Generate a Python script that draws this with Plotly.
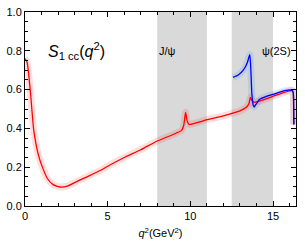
import plotly.graph_objects as go

# data
red_q2 = [0.0, 0.13, 0.33, 0.53, 0.83, 1.1, 1.34, 1.7, 2.14, 2.6, 2.94, 3.6, 4.55, 5.0, 6.0, 7.0, 8.0, 9.0, 9.47, 9.6, 9.71, 9.8, 9.93, 10.5, 11.0, 12.0, 13.0, 13.4, 13.55, 13.63, 13.72, 13.85, 13.95, 14.5, 15.0, 15.5, 16.0, 16.15, 16.22, 16.25, 16.26]
red_s = [0.76, 0.74, 0.585, 0.39, 0.257, 0.19, 0.143, 0.11, 0.098, 0.104, 0.118, 0.145, 0.183, 0.205, 0.25, 0.29, 0.335, 0.37, 0.39, 0.415, 0.483, 0.44, 0.42, 0.432, 0.445, 0.465, 0.49, 0.51, 0.53, 0.56, 0.545, 0.535, 0.535, 0.55, 0.565, 0.58, 0.593, 0.595, 0.585, 0.5, 0.42]

blue_q2 = [12.58, 12.9, 13.2, 13.45, 13.55, 13.6, 13.66, 13.72, 13.8, 13.86, 13.95, 14.2, 14.6, 15.0, 15.5, 15.9, 16.05, 16.17, 16.23, 16.25, 16.26]
blue_s = [0.663, 0.675, 0.70, 0.74, 0.77, 0.78, 0.70, 0.58, 0.52, 0.51, 0.522, 0.55, 0.565, 0.575, 0.59, 0.597, 0.598, 0.595, 0.58, 0.5, 0.42]

bands = [(8.0, 11.0), (12.5, 15.0)]
band_labels = ["J/\u03c8", "\u03c8(2S)"]
band_label_x = [8.0, 14.2]

x_ticks = [0, 5, 10, 15]
y_ticks = [0.0, 0.2, 0.4, 0.6, 0.8, 1.0]
y_tick_text = ["0.0", "0.2", "0.4", "0.6", "0.8", "1.0"]

fig = go.Figure()

# uncertainty bands (drawn as wide translucent strokes)
fig.add_trace(go.Scatter(x=red_q2, y=red_s, mode="lines", line=dict(color="rgba(255,0,0,0.13)", width=7, shape="spline", smoothing=0.5), hoverinfo="skip", showlegend=False))
fig.add_trace(go.Scatter(x=blue_q2, y=blue_s, mode="lines", line=dict(color="rgba(0,120,255,0.13)", width=7, shape="spline", smoothing=0.5), hoverinfo="skip", showlegend=False))
fig.add_trace(go.Scatter(x=red_q2, y=red_s, mode="lines", line=dict(color="#ff0000", width=1.3, shape="spline", smoothing=0.5), showlegend=False))
fig.add_trace(go.Scatter(x=blue_q2, y=blue_s, mode="lines", line=dict(color="#0000ff", width=1.3, shape="spline", smoothing=0.5), showlegend=False))

for (a, b) in bands:
    fig.add_shape(type="rect", x0=a, x1=b, y0=0, y1=1, xref="x", yref="y", fillcolor="#d9d9d9", line=dict(width=0), layer="below")

for lbl, lx in zip(band_labels, band_label_x):
    fig.add_annotation(x=lx, y=0.8, text=lbl, showarrow=False, xanchor="left", yanchor="middle", font=dict(size=11, color="black", family="Liberation Sans"))

fig.add_annotation(x=1.3, y=0.8, xanchor="left", yanchor="middle", showarrow=False,
                   text="<i>S</i><sub>1 cc</sub>(<i>q</i><sup>2</sup>)",
                   font=dict(size=16, color="black", family="Liberation Sans"))

axis_common = dict(showline=True, linecolor="black", linewidth=1, mirror="allticks", ticks="inside", ticklen=5, tickcolor="black", showgrid=False, zeroline=False, ticklabeloverflow="allow", tickfont=dict(size=11, color="black", family="Liberation Sans"))

fig.update_xaxes(range=[0, 16.39], tickvals=x_ticks, minor=dict(dtick=1, tick0=0, ticks="inside", ticklen=3, tickcolor="black"),
                 title=dict(text="<i>q</i><sup>2</sup>(GeV<sup>2</sup>)", font=dict(size=11, color="black", family="Liberation Sans"), standoff=8), **axis_common)
fig.update_yaxes(range=[0, 1.0], tickvals=y_ticks, ticktext=y_tick_text, minor=dict(dtick=0.05, tick0=0, ticks="inside", ticklen=3, tickcolor="black"), **axis_common)

fig.update_layout(width=305, height=244, margin=dict(l=25, r=9, t=6, b=35), plot_bgcolor="white", paper_bgcolor="white")

fig.write_html("out.html", config={"displayModeBar": False},
               post_script="document.body.style.margin='0';document.body.style.overflow='hidden';")
